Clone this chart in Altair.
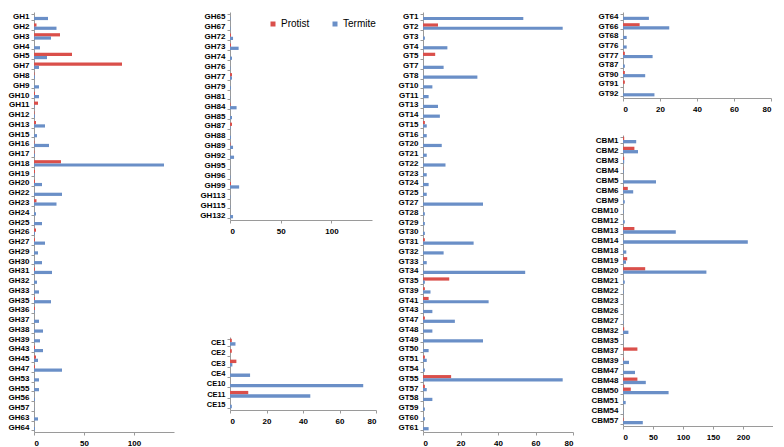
import altair as alt
import pandas as pd

# ---------------- data ----------------
gh_a_cats = ["GH1","GH2","GH3","GH4","GH5","GH7","GH8","GH9","GH10","GH11","GH12","GH13","GH15","GH16","GH17","GH18","GH19","GH20","GH22","GH23","GH24","GH25","GH26","GH27","GH29","GH30","GH31","GH32","GH33","GH35","GH36","GH37","GH38","GH39","GH43","GH45","GH47","GH53","GH55","GH56","GH57","GH63","GH64"]
gh_a_protist = [0,2.5,26,0,38,88,0.5,0,1,4,0.5,2,0,0.5,0.5,27,1,1,0,2.5,0,0,2,1,0,0,1,0,0,1,1,0,0,0,1,2,1,0,0,0,0,0,0]
gh_a_termite = [14,22.5,17,6,13,5,1,5,5,0.5,1,11,3,15,1,130,0.5,8,28,22.5,2,8,1,11,4,8,18,3,5,17,0.5,5,9,6,9,4,28,5,5,1,0.3,4,1]

gh_b_cats = ["GH65","GH67","GH72","GH73","GH74","GH76","GH77","GH79","GH81","GH84","GH85","GH87","GH88","GH89","GH92","GH95","GH96","GH99","GH113","GH115","GH132"]
gh_b_protist = [0,0,1,1,0,0,2,0,0,0.5,0,2,0,0.5,0,0,0,1,0,0,0]
gh_b_termite = [0.5,0.5,3,8.5,2,0.5,2,1,0.3,6.5,2,0.5,1,3,4,0.3,0.5,9,0.5,0.3,3]

ce_cats = ["CE1","CE2","CE3","CE4","CE10","CE11","CE15"]
ce_protist = [1,1,3.5,0,0,10,0]
ce_termite = [3,0,1.3,11,73,44,1]

gt_a_cats = ["GT1","GT2","GT3","GT4","GT5","GT7","GT8","GT10","GT11","GT13","GT14","GT15","GT16","GT20","GT21","GT22","GT23","GT24","GT25","GT27","GT28","GT29","GT30","GT31","GT32","GT33","GT34","GT35","GT39","GT41","GT43","GT47","GT48","GT49","GT50","GT51","GT54","GT55","GT57","GT58","GT59","GT60","GT61"]
gt_a_protist = [0,8,0,0,6.5,0,0,0,0,0,0,1,0,0,0,0,0,0,0,0,0,0,0,1,0,0,0,14,1,3,0,1,0,0,0,1,0,15,1,0,0,0,0]
gt_a_termite = [53.5,74.5,1,13,0,11,29,5,3,8,9,2,2,10,2,12,2,3,2,32,1,1,1,27,11,2,54.5,1,4,35,5,17,5,32,3,2,1,74.5,2,5,1,1,3]

gt_b_cats = ["GT64","GT66","GT68","GT76","GT77","GT87","GT90","GT91","GT92"]
gt_b_protist = [0,9,0,0,1,0,1,1,0]
gt_b_termite = [14,25,2,2,16,1,12,0,17]

cbm_cats = ["CBM1","CBM2","CBM3","CBM4","CBM5","CBM6","CBM9","CBM10","CBM12","CBM13","CBM14","CBM18","CBM19","CBM20","CBM21","CBM22","CBM23","CBM26","CBM27","CBM32","CBM35","CBM37","CBM39","CBM47","CBM48","CBM50","CBM51","CBM54","CBM57"]
cbm_protist = [2,19,2,0.5,0,8,0,0,0,19,0,0,7,37,0,0,0,0,0,2,0,24,1,0,24,13,0,0,1]
cbm_termite = [22,25,2,1,55,17,3,1,3,88,208,5.5,5,139,3,1,0.5,0.5,1,9,0.5,0,10,20,38,76,4.5,0.5,33]

series_names = ["Protist", "Termite"]
series_colors = ["#DA4F4A", "#6A8FC7"]

AXIS_GRAY = "#9A9A9A"
FONT = "Liberation Sans"


def panel(cats, prot, term, xmax, ticks, width, height, extent, fs, legend=None):
    n = len(cats)
    df = pd.DataFrame({
        "cat": cats + cats,
        "series": [series_names[0]] * n + [series_names[1]] * n,
        "value": prot + term,
    })
    if legend is None:
        color = alt.Color("series:N", scale=alt.Scale(domain=series_names, range=series_colors), legend=None)
    else:
        color = alt.Color("series:N", scale=alt.Scale(domain=series_names, range=series_colors), legend=legend)
    return alt.Chart(df).mark_bar().encode(
        x=alt.X("value:Q",
                scale=alt.Scale(domain=[0, xmax], nice=False, zero=True),
                axis=alt.Axis(values=ticks, title=None, grid=False, labelFontSize=8,
                              tickSize=3, labelPadding=4, domainColor=AXIS_GRAY,
                              tickColor=AXIS_GRAY, labelFont=FONT, labelFontWeight="bold",
                              labelColor="black")),
        y=alt.Y("cat:N", sort=cats,
                scale=alt.Scale(paddingInner=0.34, paddingOuter=0.17),
                axis=alt.Axis(title=None, grid=False, labelFontSize=fs, tickSize=3,
                              labelPadding=2, tickBand="extent", domainColor=AXIS_GRAY,
                              tickColor=AXIS_GRAY, labelFont=FONT, labelFontWeight="bold",
                              labelColor="black", minExtent=extent, maxExtent=extent)),
        yOffset=alt.YOffset("series:N", sort=series_names),
        color=color,
    ).properties(width=width, height=height)


legend = alt.Legend(orient="none", legendX=38, legendY=7, direction="horizontal", title=None,
                    symbolType="square", symbolSize=25, symbolStrokeWidth=0,
                    labelFontSize=10, labelFont=FONT, labelColor="black",
                    columnPadding=20, labelOffset=3)

p1 = panel(gh_a_cats, gh_a_protist, gh_a_termite, 140, [0, 50, 100], 140, 420, 26, 8)
p2 = panel(gh_b_cats, gh_b_protist, gh_b_termite, 140, [0, 50, 100], 142, 208, 46, 8, legend)
p3 = panel(ce_cats, ce_protist, ce_termite, 80, [0, 20, 40, 60, 80], 146, 73, 41, 7.5)
p4 = panel(gt_a_cats, gt_a_protist, gt_a_termite, 80, [0, 20, 40, 60, 80], 150, 420, 36, 8)
p5 = panel(gt_b_cats, gt_b_protist, gt_b_termite, 80, [0, 20, 40, 60, 80], 148, 86, 35, 8)
p6 = panel(cbm_cats, cbm_protist, cbm_termite, 250, [0, 50, 100, 150, 200], 150, 291, 39, 8)

res = dict(x="independent", y="independent", yOffset="independent", color="independent")

col2 = alt.vconcat(p2, p3, spacing=98).resolve_scale(**res)
col4 = alt.vconcat(p5, p6, spacing=18).resolve_scale(**res)

chart = alt.hconcat(p1, col2, p4, col4, spacing=10).resolve_scale(**res).properties(
    padding=0
).configure_view(strokeOpacity=0)

chart.save("out.html", embed_options={"renderer": "svg", "actions": False})
